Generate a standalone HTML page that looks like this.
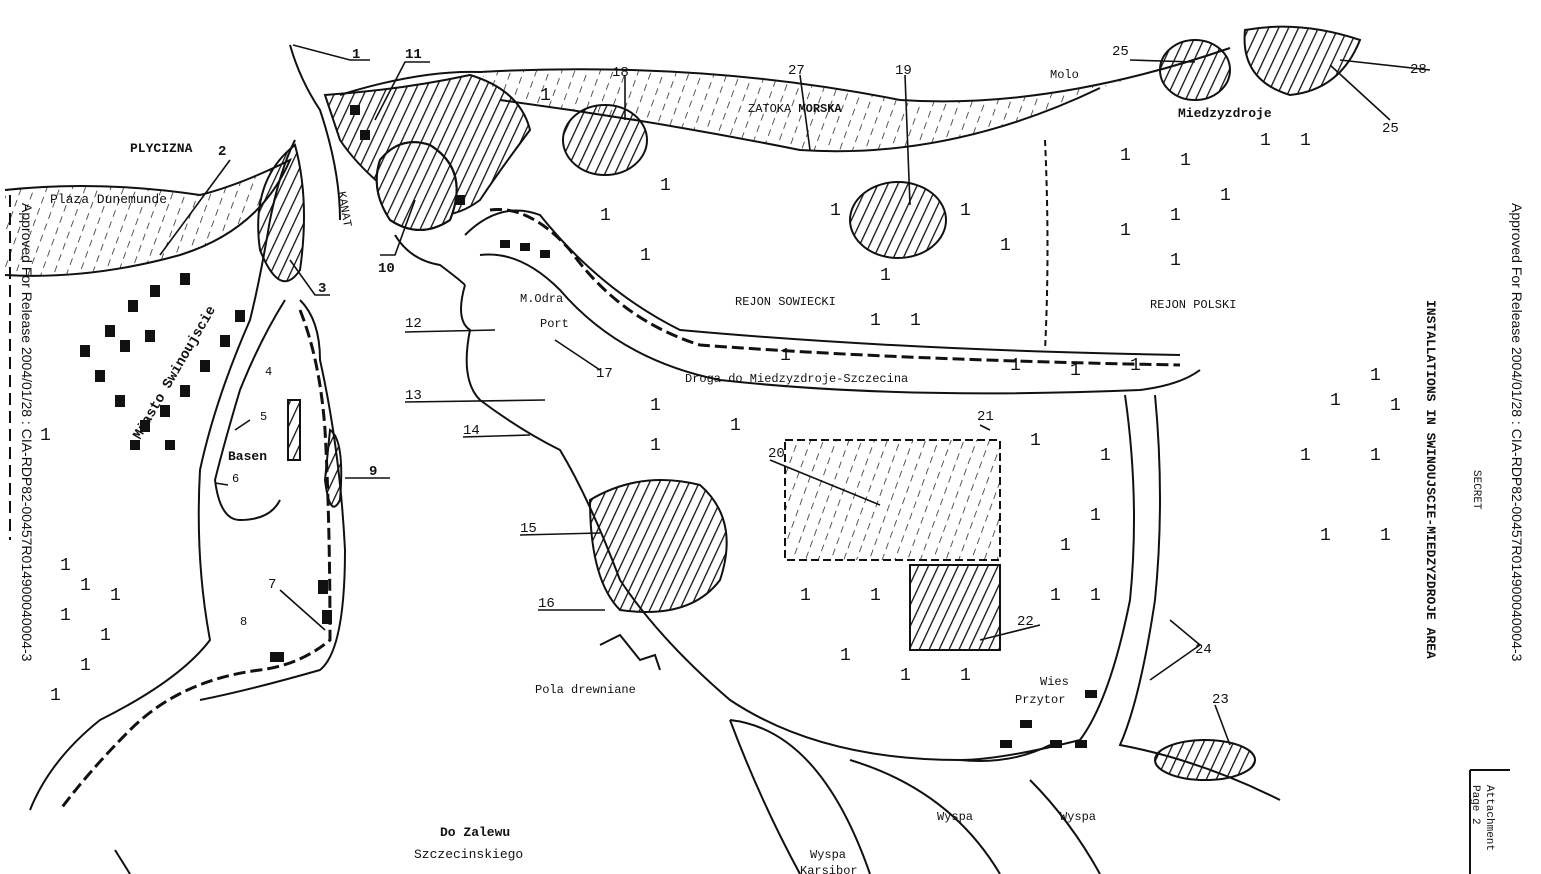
<!DOCTYPE html>
<html><head><meta charset="utf-8"><style>
html,body{margin:0;padding:0;background:#fff;}
svg{display:block}
text{font-family:"Liberation Mono",monospace;fill:#111}
.b{font-weight:bold}
</style></head><body>
<svg width="1541" height="874" viewBox="0 0 1541 874" xmlns="http://www.w3.org/2000/svg">
<defs>
<pattern id="h" width="9" height="9" patternUnits="userSpaceOnUse" patternTransform="rotate(25)">
<line x1="0" y1="0" x2="0" y2="9" stroke="#111" stroke-width="2.6"/></pattern>
<pattern id="d" width="12" height="12" patternUnits="userSpaceOnUse" patternTransform="rotate(20)">
<line x1="0" y1="2" x2="0" y2="9" stroke="#222" stroke-width="1.5"/></pattern>
</defs>
<g fill="none" stroke="#111" stroke-width="2">
<path d="M340 95 Q420 70 480 72 Q700 60 900 100 Q1050 110 1230 48" />
<path d="M500 100 Q650 120 800 150 Q950 160 1100 88" />
<path d="M500 100 Q650 120 800 150 Q950 160 1100 88 L1230 48 Q1050 110 900 100 Q700 60 480 72 Z" fill="url(#d)" stroke="none"/>
<path d="M5 190 Q100 180 200 195 Q240 185 290 160 Q260 230 180 255 Q90 280 5 275" fill="url(#d)"/>
<path d="M290 45 Q300 80 320 110 Q340 170 340 220" />
<path d="M295 140 Q280 170 270 220 Q260 280 250 320 Q215 400 200 470 Q195 560 210 640 Q180 680 100 720 Q50 760 30 810"/>
<path d="M285 300 Q260 340 240 390 Q225 440 215 480 Q220 520 240 520 Q270 520 280 500"/>
<path d="M300 310 Q320 360 325 430 Q330 520 330 640 Q300 665 260 670 Q180 680 130 730 Q90 770 60 810" stroke-width="3" stroke-dasharray="12 5"/>
<path d="M300 300 Q320 320 320 360 Q340 450 345 550 Q345 650 320 670 Q250 690 200 700"/>
<path d="M295 145 Q310 200 300 270 Q280 300 260 250 Q250 180 295 145Z" fill="url(#h)"/>
<path d="M325 95 Q400 90 470 75 Q520 90 530 130 Q500 170 480 200 Q440 230 400 200 Q360 170 340 140Z" fill="url(#h)"/>
<path d="M380 160 Q400 135 430 145 Q470 170 450 220 Q420 240 390 220 Q370 190 380 160Z" fill="#fff"/>
<path d="M380 160 Q400 135 430 145 Q470 170 450 220 Q420 240 390 220 Q370 190 380 160Z" fill="url(#h)"/>
<ellipse cx="605" cy="140" rx="42" ry="35" fill="url(#h)"/>
<ellipse cx="898" cy="220" rx="48" ry="38" fill="url(#h)"/>
<ellipse cx="1195" cy="70" rx="35" ry="30" fill="url(#h)"/>
<path d="M1245 30 Q1300 20 1360 40 Q1340 90 1290 95 Q1240 80 1245 30Z" fill="url(#h)"/>
<path d="M490 210 Q530 205 570 250 Q620 320 700 345 Q900 360 1180 365" stroke-width="3" stroke-dasharray="12 5"/>
<path d="M480 255 Q520 250 560 290 Q620 360 720 380 Q900 400 1140 390 Q1180 385 1200 370"/>
<path d="M465 235 Q500 200 540 215 Q600 290 680 330 Q900 350 1180 355"/>
<path d="M1125 395 Q1140 500 1130 600 Q1110 700 1080 740 Q1000 760 960 760"/>
<path d="M1155 395 Q1165 500 1155 600 Q1140 700 1120 745 Q1200 760 1280 800"/>
<path d="M1045 140 Q1050 250 1045 350" stroke-dasharray="6 4"/>
<path d="M465 285 Q455 320 470 330 Q460 380 480 400 Q520 430 560 450 Q590 500 620 580 Q660 640 730 700 Q820 760 960 760 Q1010 765 1050 745"/>
<path d="M395 235 Q410 260 440 265 Q460 280 465 285"/>
<path d="M590 500 Q640 470 700 485 Q740 520 720 580 Q690 620 620 610 Q590 580 590 500Z" fill="url(#h)"/>
<rect x="785" y="440" width="215" height="120" fill="url(#d)" stroke-dasharray="8 4"/>
<rect x="910" y="565" width="90" height="85" fill="url(#h)"/>
<ellipse cx="1205" cy="760" rx="50" ry="20" fill="url(#h)"/>
<rect x="288" y="400" width="12" height="60" fill="url(#h)"/>
<path d="M330 430 Q345 440 340 500 Q330 520 325 480Z" fill="url(#h)"/>
<path d="M730 720 Q760 800 800 874"/><path d="M730 720 Q820 730 870 874"/>
<path d="M850 760 Q950 790 1000 874"/><path d="M1030 780 Q1070 820 1100 874"/>
<path d="M1470 770 L1470 874 M1470 770 L1510 770"/>
<path d="M10 195 L10 540" stroke-dasharray="12 6"/>
<path d="M115 850 L130 874"/>
<path d="M600 645 L620 635 L640 660 L655 655 L660 670"/>
</g>
<!-- leader lines -->
<g stroke="#111" stroke-width="1.6" fill="none">
<path d="M293 45 L350 60 L370 60"/><path d="M375 120 L405 62 L430 62"/>
<path d="M230 160 L160 255"/><path d="M290 260 L315 295 L330 295"/>
<path d="M415 200 L395 255 L380 255"/><path d="M405 332 L495 330"/>
<path d="M405 402 L545 400"/><path d="M463 437 L530 435"/>
<path d="M520 535 L600 533"/><path d="M538 610 L605 610"/>
<path d="M345 478 L390 478"/><path d="M280 590 L325 630"/>
<path d="M625 75 L625 120"/><path d="M800 75 L810 150"/>
<path d="M905 75 L910 205"/><path d="M1130 60 L1195 62"/>
<path d="M1340 60 L1430 70"/><path d="M1330 65 L1390 120"/>
<path d="M555 340 L600 370"/><path d="M980 425 L990 430"/>
<path d="M770 460 L880 505"/><path d="M1040 625 L980 640"/>
<path d="M1170 620 L1200 645 L1150 680"/><path d="M1215 705 L1230 745"/>
<path d="M235 430 L250 420 M228 485 L215 483"/>
</g>
<g fill="#111">
<rect x="180" y="273" width="10" height="12"/><rect x="150" y="285" width="10" height="12"/><rect x="128" y="300" width="10" height="12"/>
<rect x="105" y="325" width="10" height="12"/><rect x="80" y="345" width="10" height="12"/><rect x="120" y="340" width="10" height="12"/>
<rect x="145" y="330" width="10" height="12"/><rect x="95" y="370" width="10" height="12"/><rect x="115" y="395" width="10" height="12"/>
<rect x="140" y="420" width="10" height="12"/><rect x="160" y="405" width="10" height="12"/><rect x="180" y="385" width="10" height="12"/>
<rect x="200" y="360" width="10" height="12"/><rect x="220" y="335" width="10" height="12"/><rect x="235" y="310" width="10" height="12"/>
<rect x="165" y="440" width="10" height="10"/><rect x="130" y="440" width="10" height="10"/>
<rect x="1000" y="740" width="12" height="8"/><rect x="1050" y="740" width="12" height="8"/><rect x="1075" y="740" width="12" height="8"/>
<rect x="1085" y="690" width="12" height="8"/><rect x="1020" y="720" width="12" height="8"/><rect x="270" y="652" width="14" height="10"/>
<rect x="318" y="580" width="10" height="14"/><rect x="322" y="610" width="10" height="14"/>
<rect x="500" y="240" width="10" height="8"/><rect x="520" y="243" width="10" height="8"/><rect x="540" y="250" width="10" height="8"/>
<rect x="350" y="105" width="10" height="10"/><rect x="360" y="130" width="10" height="10"/><rect x="455" y="195" width="10" height="10"/>
</g>
<g font-size="14">
<text x="352" y="58" class="b">1</text><text x="405" y="58" class="b">11</text>
<text x="130" y="152" class="b" font-size="13">PLYCIZNA</text><text x="218" y="155" class="b">2</text>
<text x="50" y="203" font-size="13">Plaza Dunemunde</text>
<text x="318" y="292" class="b">3</text><text x="378" y="272" class="b">10</text>
<text x="405" y="327">12</text><text x="405" y="399">13</text><text x="463" y="434">14</text>
<text x="520" y="532">15</text><text x="538" y="607">16</text>
<text x="369" y="475" class="b">9</text><text x="260" y="420" font-size="12">5</text>
<text x="228" y="460" class="b" font-size="13">Basen</text><text x="232" y="482" font-size="12">6</text>
<text x="268" y="588">7</text><text x="240" y="625" font-size="12">8</text>
<text x="265" y="375" font-size="12">4</text>
<text x="612" y="76">18</text><text x="788" y="74">27</text><text x="895" y="74">19</text>
<text x="748" y="112" font-size="12">ZATOKA <tspan class="b">MORSKA</tspan></text>
<text x="1112" y="55">25</text><text x="1050" y="78" font-size="12">Molo</text>
<text x="1178" y="117" class="b" font-size="13">Miedzyzdroje</text>
<text x="1410" y="73">28</text><text x="1382" y="132">25</text>
<text x="735" y="305" font-size="12">REJON SOWIECKI</text>
<text x="1150" y="308" font-size="12">REJON POLSKI</text>
<text x="520" y="302" font-size="12">M.Odra</text><text x="540" y="327" font-size="12">Port</text>
<text x="596" y="377">17</text>
<text x="685" y="382" font-size="12">Droga do Miedzyzdroje-Szczecina</text>
<text x="977" y="420">21</text><text x="768" y="457">20</text><text x="1017" y="625">22</text>
<text x="1195" y="653">24</text><text x="1212" y="703">23</text>
<text x="1040" y="685" font-size="12">Wies</text><text x="1015" y="703" font-size="12">Przytor</text>
<text x="535" y="693" font-size="12">Pola drewniane</text>
<text x="440" y="836" class="b" font-size="13">Do Zalewu</text>
<text x="414" y="858" font-size="13">Szczecinskiego</text>
<text x="937" y="820" font-size="12">Wyspa</text><text x="1060" y="820" font-size="12">Wyspa</text>
<text x="810" y="858" font-size="12">Wyspa</text><text x="800" y="874" font-size="12">Karsibor</text>
<text x="0" y="0" font-size="12" transform="translate(338,192) rotate(80)">KANAT</text>
<text x="0" y="0" font-size="14" class="b" transform="translate(140,440) rotate(-60)">Miasto Swinoujscie</text>
</g>
<g font-family="Liberation Sans" font-size="14">
<text transform="translate(1512,203) rotate(90)" style="font-family:'Liberation Sans'">Approved For Release 2004/01/28 : CIA-RDP82-00457R014900040004-3</text>
<text transform="translate(22,203) rotate(90)" style="font-family:'Liberation Sans'">Approved For Release 2004/01/28 : CIA-RDP82-00457R014900040004-3</text>
</g>
<text transform="translate(1427,300) rotate(90)" font-size="13" class="b">INSTALLATIONS IN SWINOUJSCIE-MIEDZYZDROJE AREA</text>
<text transform="translate(1474,470) rotate(90)" font-size="11">SECRET</text>
<text transform="translate(1487,785) rotate(90)" font-size="11">Attachment</text>
<text transform="translate(1473,785) rotate(90)" font-size="11">Page 2</text>
<g font-size="18" font-family="Liberation Sans" fill="#111">
<text x="540" y="100">1</text><text x="660" y="190">1</text><text x="600" y="220">1</text><text x="640" y="260">1</text>
<text x="830" y="215">1</text><text x="960" y="215">1</text><text x="1000" y="250">1</text><text x="880" y="280">1</text>
<text x="1120" y="160">1</text><text x="1180" y="165">1</text><text x="1220" y="200">1</text><text x="1170" y="220">1</text>
<text x="1120" y="235">1</text><text x="1170" y="265">1</text><text x="1300" y="145">1</text><text x="1260" y="145">1</text>
<text x="1370" y="380">1</text><text x="1330" y="405">1</text><text x="1390" y="410">1</text><text x="1300" y="460">1</text>
<text x="1370" y="460">1</text><text x="1380" y="540">1</text><text x="1320" y="540">1</text>
<text x="650" y="410">1</text><text x="730" y="430">1</text><text x="650" y="450">1</text><text x="800" y="600">1</text>
<text x="870" y="600">1</text><text x="840" y="660">1</text><text x="900" y="680">1</text><text x="960" y="680">1</text>
<text x="1030" y="445">1</text><text x="1100" y="460">1</text><text x="1060" y="550">1</text><text x="1090" y="520">1</text>
<text x="1050" y="600">1</text><text x="1090" y="600">1</text><text x="870" y="325">1</text><text x="910" y="325">1</text>
<text x="780" y="360">1</text><text x="1010" y="370">1</text><text x="1070" y="375">1</text><text x="1130" y="370">1</text>
<text x="60" y="570">1</text><text x="80" y="590">1</text><text x="60" y="620">1</text><text x="100" y="640">1</text>
<text x="80" y="670">1</text><text x="50" y="700">1</text><text x="40" y="440">1</text><text x="110" y="600">1</text>
</g>
</svg>
</body></html>
